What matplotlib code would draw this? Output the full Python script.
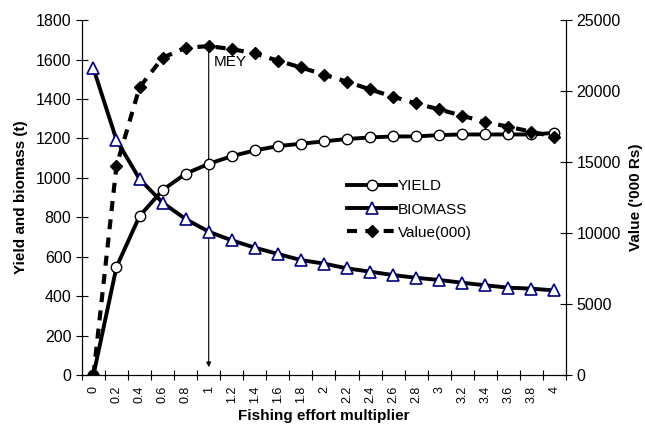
import matplotlib
matplotlib.use("Agg")
import matplotlib.pyplot as plt
import numpy as np

plt.rcParams['font.family'] = ['Liberation Sans', 'DejaVu Sans']

effort_labels = ['0', '0.2', '0.4', '0.6', '0.8', '1', '1.2', '1.4', '1.6', '1.8', '2',
                 '2.2', '2.4', '2.6', '2.8', '3', '3.2', '3.4', '3.6', '3.8', '4']
yield_t = [0, 548, 806, 938, 1021, 1071, 1110, 1139, 1161, 1173, 1185,
           1197, 1205, 1210, 1210, 1217, 1220, 1220, 1220, 1220, 1228]
biomass_t = [1555, 1192, 994, 874, 791, 727, 683, 646, 614, 583, 565,
             541, 524, 507, 493, 482, 468, 455, 443, 438, 429]
value_rs = [0, 14740, 20260, 22350, 23050, 23170, 22960, 22650, 22140, 21670, 21160,
            20660, 20120, 19600, 19130, 18710, 18260, 17820, 17490, 17140, 16780]

x = np.arange(len(effort_labels))

fig = plt.figure(figsize=(6.45, 4.28), dpi=100)
ax = fig.add_axes([0.127, 0.1238, 0.7505, 0.8292])
ax2 = ax.twinx()

ax.plot(x, yield_t, '-', color='black', lw=2.8, marker='o', ms=7.5,
        mfc='white', mec='black', mew=1.0, label='YIELD', zorder=3)
ax.plot(x, biomass_t, '-', color='black', lw=2.8, marker='^', ms=9,
        mfc='white', mec='#000080', mew=1.2, label='BIOMASS', zorder=3)
ax2.plot(x, value_rs, color='black', lw=3, ls=(0, (2.4, 2.0)), marker='D', ms=6.5,
         mfc='black', mec='black', label='Value(000)', zorder=3)

ax.set_xlim(-0.5, len(x) - 0.5)
ax.set_ylim(0, 1800)
ax2.set_ylim(0, 25000)
ax.set_yticks(np.arange(0, 1801, 200))
ax2.set_yticks(np.arange(0, 25001, 5000))

ax.set_xticks(x)
ax.set_xticklabels(effort_labels, rotation=90, fontsize=9)
ax.set_xticks(np.arange(-0.5, len(x), 1), minor=True)
ax.tick_params(axis='x', which='major', length=0, pad=8)
ax.tick_params(axis='x', which='minor', direction='inout', length=7, width=0.8)
ax.tick_params(axis='y', direction='inout', length=8, width=0.8, labelsize=11.5)
ax2.tick_params(axis='y', direction='inout', length=8, width=0.8, labelsize=11.5)

for a in (ax, ax2):
    a.spines['top'].set_visible(False)
    for s in ('left', 'right', 'bottom'):
        a.spines[s].set_linewidth(0.8)

ax.set_ylabel('Yield and biomass (t)', fontsize=11, fontweight='bold', labelpad=6)
ax2.set_ylabel("Value ('000 Rs)", fontsize=11, fontweight='bold', labelpad=6)
ax.set_xlabel('Fishing effort multiplier', fontsize=11, fontweight='bold', labelpad=4)

# MEY marker
ax.annotate('', xy=(5, 40), xytext=(5, 1680),
            arrowprops=dict(arrowstyle='-|>', color='black', lw=0.8,
                            mutation_scale=7, shrinkA=0, shrinkB=0), zorder=2)
ax2.text(5.2, 22050, 'MEY', fontsize=11, va='center', ha='left', zorder=5)

h1, l1 = ax.get_legend_handles_labels()
h2, l2 = ax2.get_legend_handles_labels()
ax2.legend(h1 + h2, l1 + l2, loc='upper left', bbox_to_anchor=(0.52, 0.59),
           frameon=False, fontsize=11, handlelength=3.2, handletextpad=0.1,
           labelspacing=0.6)

fig.savefig('out.png', dpi=100)
